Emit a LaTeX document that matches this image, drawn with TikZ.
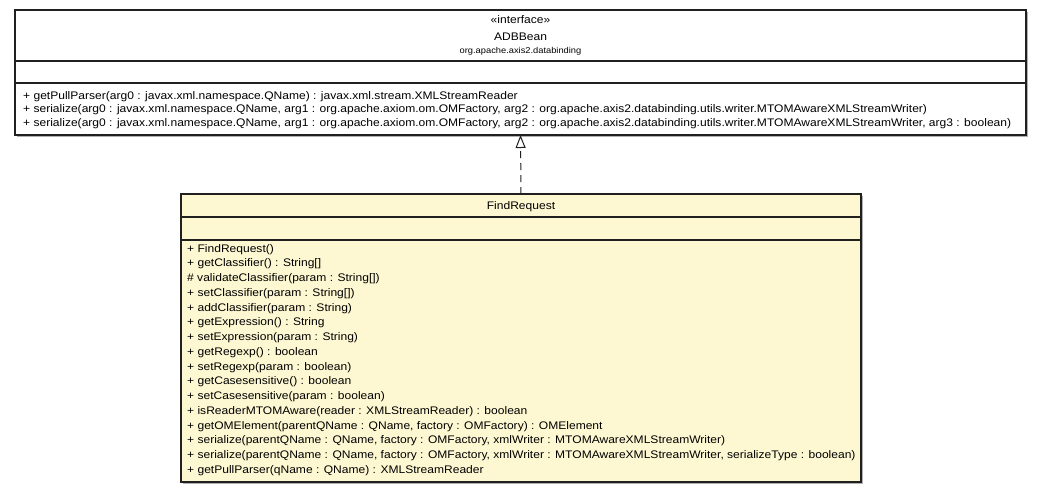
\documentclass[tikz,border=0pt]{standalone}
\usepackage{fontspec}
\setmainfont[FakeStretch=1.095]{Liberation Sans}
\usetikzlibrary{arrows.meta}
\definecolor{fryellow}{HTML}{FEF8D2}
\definecolor{boxline}{HTML}{202020}
\definecolor{shadowgray}{HTML}{B0B0B0}
\begin{document}
\begin{tikzpicture}[x=1pt,y=-1pt,
  classbox/.style={draw=boxline, line width=1.3pt, rectangle, inner sep=0pt, outer sep=0pt},
  shadowbox/.style={fill=shadowgray, draw=none},
  divider/.style={draw=boxline, line width=1.3pt},
  mtext/.style={anchor=base west, inner sep=0pt, font=\fontsize{11}{13}\selectfont},
  ctext/.style={anchor=base, inner sep=0pt, font=\fontsize{11}{13}\selectfont},
  pkgtext/.style={anchor=base, inner sep=0pt, font=\fontsize{8.5}{10}\selectfont},
  realize/.style={draw=boxline, line width=1pt, dash pattern=on 7pt off 5pt, -{Triangle[open, length=13pt, width=10pt]}}]
\useasboundingbox (0,0) rectangle (1043,493);
% shadows
\fill[shadowbox] (17,12) rectangle (1028,137);
\fill[shadowbox] (183,196) rectangle (863,484);
% interface box
\node[classbox, fill=white, minimum width=1011pt, minimum height=125pt] (adb) at (520.5,72.5) {};
\draw[divider] (15,61) -- (1026,61);
\draw[divider] (15,83) -- (1026,83);
\node[ctext] (adbst) at (520.5,23) {«interface»};
\node[ctext] (adbname) at (520.5,40) {ADBBean};
\node[pkgtext] (adbpkg) at (520.5,53) {org.apache.axis2.databinding};
\node[mtext] (am1) at (23,99) {+ getPullParser(arg0 : javax.xml.namespace.QName) : javax.xml.stream.XMLStreamReader};
\node[mtext] (am2) at (23,112.5) {+ serialize(arg0 : javax.xml.namespace.QName, arg1 : org.apache.axiom.om.OMFactory, arg2 : org.apache.axis2.databinding.utils.writer.MTOMAwareXMLStreamWriter)};
\node[mtext] (am3) at (23,126) {+ serialize(arg0 : javax.xml.namespace.QName, arg1 : org.apache.axiom.om.OMFactory, arg2 : org.apache.axis2.databinding.utils.writer.MTOMAwareXMLStreamWriter, arg3 : boolean)};
% class box
\node[classbox, fill=fryellow, minimum width=680pt, minimum height=288pt] (fr) at (521,338) {};
\draw[divider] (181,217) -- (861,217);
\draw[divider] (181,240) -- (861,240);
\node[ctext] (frname) at (521,209) {FindRequest};
\foreach \t [count=\i from 0] in {
  {+ FindRequest()},
  {+ getClassifier() : String[]},
  {\# validateClassifier(param : String[])},
  {+ setClassifier(param : String[])},
  {+ addClassifier(param : String)},
  {+ getExpression() : String},
  {+ setExpression(param : String)},
  {+ getRegexp() : boolean},
  {+ setRegexp(param : boolean)},
  {+ getCasesensitive() : boolean},
  {+ setCasesensitive(param : boolean)},
  {+ isReaderMTOMAware(reader : XMLStreamReader) : boolean},
  {+ getOMElement(parentQName : QName, factory : OMFactory) : OMElement},
  {+ serialize(parentQName : QName, factory : OMFactory, xmlWriter : MTOMAwareXMLStreamWriter)},
  {+ serialize(parentQName : QName, factory : OMFactory, xmlWriter : MTOMAwareXMLStreamWriter, serializeType : boolean)},
  {+ getPullParser(qName : QName) : XMLStreamReader}}
  \node[mtext] (fm\i) at (187,252+14.75*\i) {\t};
% realization
\draw[realize] (fr.north) -- (adb.south);
\end{tikzpicture}
\end{document}
